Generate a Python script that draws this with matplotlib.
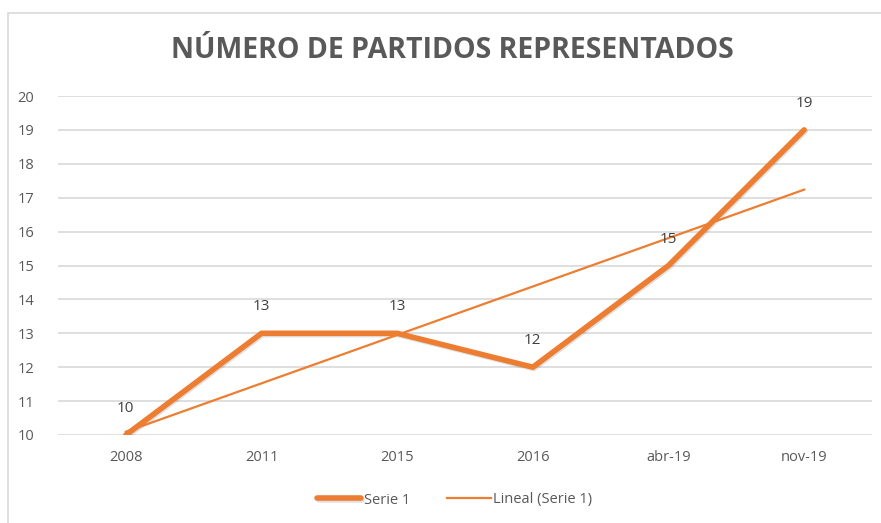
import numpy as np
import matplotlib.pyplot as plt
import matplotlib.patheffects as pe
from matplotlib.patches import Rectangle

# Chart data
categories = ["2008", "2011", "2015", "2016", "abr-19", "nov-19"]
partidos = [10, 13, 13, 12, 15, 19]

ORANGE = "#ED7D31"
GREY_TXT = "#595959"
GRID = "#D9D9D9"

plt.rcParams['font.family'] = ['Open Sans', 'DejaVu Sans']

fig = plt.figure(figsize=(8.81, 5.23), dpi=100)
W, H = 881, 523
ax = fig.add_axes([58 / W, 1 - 435 / H, (872 - 58) / W, (435 - 96) / H])

# outer chart frame
fig.patches.append(Rectangle((8 / W, -0.05), 1.0, 1 - 13 / H + 0.05,
                             transform=fig.transFigure, fill=False,
                             edgecolor="#D9D9D9", linewidth=1.2))

x = np.arange(len(categories))

# main series
ax.plot(x, partidos, color=ORANGE, linewidth=4, solid_capstyle='round',
        solid_joinstyle='round', label="Serie 1", zorder=3,
        path_effects=[pe.SimpleLineShadow(offset=(0.8, -1), alpha=0.12), pe.Normal()])

# linear trend, like Excel's "Lineal"
slope, intercept = np.polyfit(x, partidos, 1)
ax.plot(x, slope * x + intercept, color=ORANGE, linewidth=1.6,
        label="Lineal (Serie 1)", zorder=4)

# data labels
for xi, v in zip(x, partidos):
    ax.annotate(str(v), (xi, v), xytext=(0, 19), textcoords='offset points',
                ha='center', va='center', fontsize=11, color="#404040", zorder=5)

ax.set_xlim(-0.5, len(categories) - 0.5)
ax.set_ylim(10, 20)
ax.set_yticks(range(10, 21))
ax.set_xticks(x)
ax.set_xticklabels(categories)
ax.tick_params(length=0, labelsize=10.5, labelcolor=GREY_TXT)
ax.tick_params(axis='y', pad=17)
ax.tick_params(axis='x', pad=11)
for s in ax.spines.values():
    s.set_visible(False)
ax.grid(axis='y', color=GRID, linewidth=1.2)
ax.set_axisbelow(True)

fig.text(452 / W, 1 - 51 / H, "NÚMERO DE PARTIDOS REPRESENTADOS", ha='center', va='center',
         fontsize=20.5, fontweight='bold', color=GREY_TXT)

ax.legend(loc='center', bbox_to_anchor=(455 / W, 1 - 500 / H), bbox_transform=fig.transFigure,
          ncol=2, frameon=False, fontsize=10.5, labelcolor=GREY_TXT, handlelength=3,
          handletextpad=0.2, columnspacing=2.5)

fig.savefig("out.png", dpi=100)
